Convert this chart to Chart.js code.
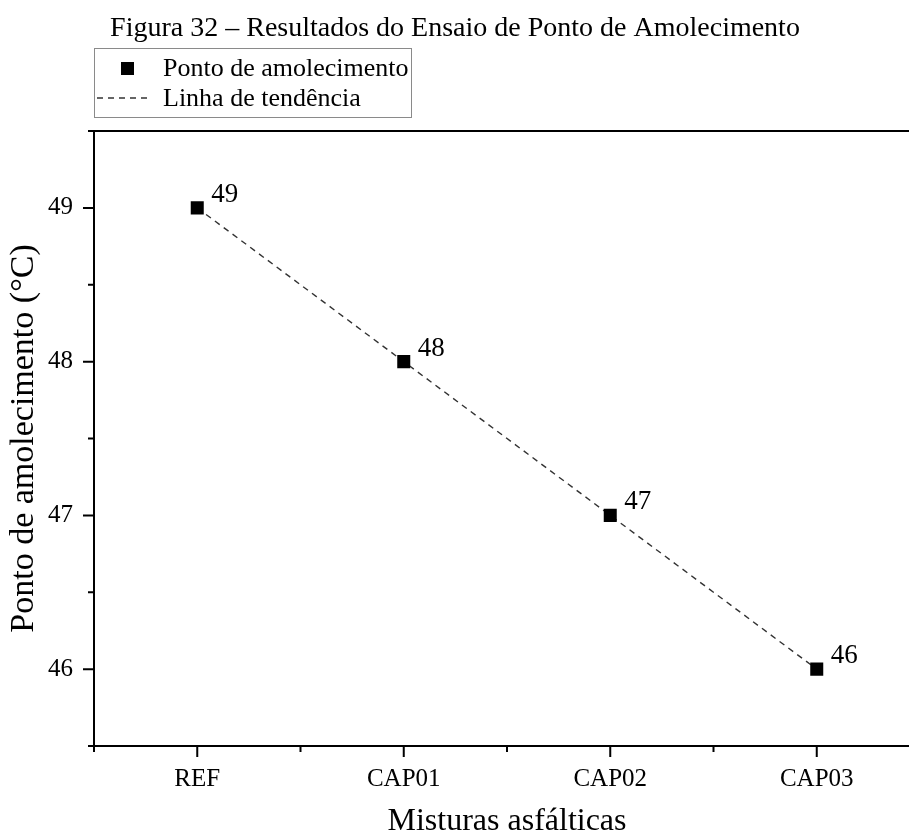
<!DOCTYPE html>
<html lang="pt">
<head>
<meta charset="utf-8">
<title>Ponto de amolecimento</title>
<script src="https://cdn.jsdelivr.net/npm/chart.js@4/dist/chart.umd.min.js"></script>
<style>
  html, body { margin: 0; padding: 0; background: #fff; overflow: hidden; }
  #wrap { width: 909px; height: 834px; overflow: hidden; }
</style>
</head>
<body>
<div id="wrap"><canvas id="chart" width="940" height="834"></canvas></div>
<script>
// Ensaio de ponto de amolecimento por mistura
const misturas = ['REF', 'CAP01', 'CAP02', 'CAP03'];
const pontoAmolecimento = [49, 48, 47, 46];
const linhaTendencia = [49, 48, 47, 46];
const yLabels = [46, 47, 48, 49];
const tituloFigura = 'Figura 32 – Resultados do Ensaio de Ponto de Amolecimento';

const SERIF = "'Liberation Serif', 'Times New Roman', serif";

// figure caption, centred on the visible page width
const figureTitle = {
  id: 'figureTitle',
  afterDraw(chart) {
    const ctx = chart.ctx;
    ctx.save();
    ctx.fillStyle = '#000';
    ctx.font = '28px ' + SERIF;
    ctx.textAlign = 'center';
    ctx.textBaseline = 'alphabetic';
    ctx.fillText(tituloFigura, 455, 36);
    ctx.restore();
  }
};

// tick marks (long on categories / integers, short in between) + top frame line
const tickMarks = {
  id: 'tickMarks',
  afterDraw(chart) {
    const { ctx, chartArea: a, scales: { x, y } } = chart;
    ctx.save();
    ctx.strokeStyle = '#000';
    ctx.lineWidth = 2;
    ctx.beginPath();
    ctx.moveTo(a.left, a.top);
    ctx.lineTo(a.right, a.top);
    for (let i = -0.5; i <= misturas.length - 0.5; i += 0.5) {
      const px = x.getPixelForValue(i);
      const len = Number.isInteger(i) ? 11 : 6;
      ctx.moveTo(px, a.bottom);
      ctx.lineTo(px, a.bottom + len);
    }
    y.ticks.forEach(t => {
      const py = y.getPixelForValue(t.value);
      const len = yLabels.includes(t.value) ? 11 : 6;
      ctx.moveTo(a.left, py);
      ctx.lineTo(a.left - len, py);
    });
    ctx.stroke();
    ctx.restore();
  }
};

// value written above-right of every point
const pointValues = {
  id: 'pointValues',
  afterDatasetsDraw(chart) {
    const ctx = chart.ctx;
    const meta = chart.getDatasetMeta(0);
    ctx.save();
    ctx.fillStyle = '#000';
    ctx.font = '27px ' + SERIF;
    ctx.textAlign = 'left';
    ctx.textBaseline = 'alphabetic';
    meta.data.forEach((pt, i) => {
      ctx.fillText(String(pontoAmolecimento[i]), pt.x + 14, pt.y - 6);
    });
    ctx.restore();
  }
};

// boxed legend in the upper left
const legendBox = {
  id: 'legendBox',
  afterDraw(chart) {
    const ctx = chart.ctx;
    const ds = chart.data.datasets;
    ctx.save();
    ctx.strokeStyle = '#8a8a8a';
    ctx.lineWidth = 1;
    ctx.strokeRect(94.5, 48.5, 317, 69);

    ctx.fillStyle = ds[0].backgroundColor;
    ctx.fillRect(121, 62, 13, 13);

    ctx.strokeStyle = ds[1].borderColor;
    ctx.lineWidth = ds[1].borderWidth;
    ctx.setLineDash(ds[1].borderDash);
    ctx.beginPath();
    ctx.moveTo(97, 98);
    ctx.lineTo(152, 98);
    ctx.stroke();

    ctx.fillStyle = '#000';
    ctx.font = '26px ' + SERIF;
    ctx.textBaseline = 'alphabetic';
    ctx.fillText(ds[0].label, 163, 76);
    ctx.fillText(ds[1].label, 163, 106);
    ctx.restore();
  }
};

new Chart(document.getElementById('chart'), {
  type: 'line',
  data: {
    labels: misturas,
    datasets: [
      {
        label: 'Ponto de amolecimento',
        data: pontoAmolecimento,
        showLine: false,
        pointStyle: 'rect',
        pointRadius: 9.2,
        pointBorderWidth: 0,
        backgroundColor: '#000',
        borderColor: '#000'
      },
      {
        label: 'Linha de tendência',
        data: linhaTendencia,
        borderColor: '#333',
        borderWidth: 1.4,
        borderDash: [6, 5],
        pointRadius: 0,
        fill: false,
        tension: 0
      }
    ]
  },
  options: {
    responsive: false,
    animation: false,
    events: [],
    // plot runs a little past the right edge of the page
    layout: { padding: { top: 131, left: 0, right: 20, bottom: 0 } },
    plugins: {
      legend: { display: false },
      tooltip: { enabled: false },
      title: { display: false }
    },
    scales: {
      x: {
        type: 'category',
        offset: true,
        grid: { display: false },
        border: { display: true, color: '#000', width: 2 },
        ticks: {
          color: '#000',
          font: { family: SERIF, size: 25 },
          padding: 10,
          maxRotation: 0,
          autoSkip: false
        },
        title: {
          display: true,
          text: 'Misturas asfálticas',
          color: '#000',
          font: { family: SERIF, size: 32, lineHeight: 0.8 },
          padding: 0
        },
        afterFit: s => { s.height = 88; }
      },
      y: {
        min: 45.5,
        max: 49.5,
        grid: { display: false },
        border: { display: true, color: '#000', width: 2 },
        ticks: {
          stepSize: 0.5,
          color: '#000',
          font: { family: SERIF, size: 25 },
          padding: 13,
          callback: v => yLabels.includes(v) ? v : ''
        },
        title: {
          display: true,
          text: 'Ponto de amolecimento (°C)',
          color: '#000',
          font: { family: SERIF, size: 34, lineHeight: 1.2 },
          padding: { top: 4, bottom: 0 }
        },
        afterFit: s => { s.width = 94; }
      }
    }
  },
  plugins: [figureTitle, tickMarks, pointValues, legendBox]
});
</script>
</body>
</html>
